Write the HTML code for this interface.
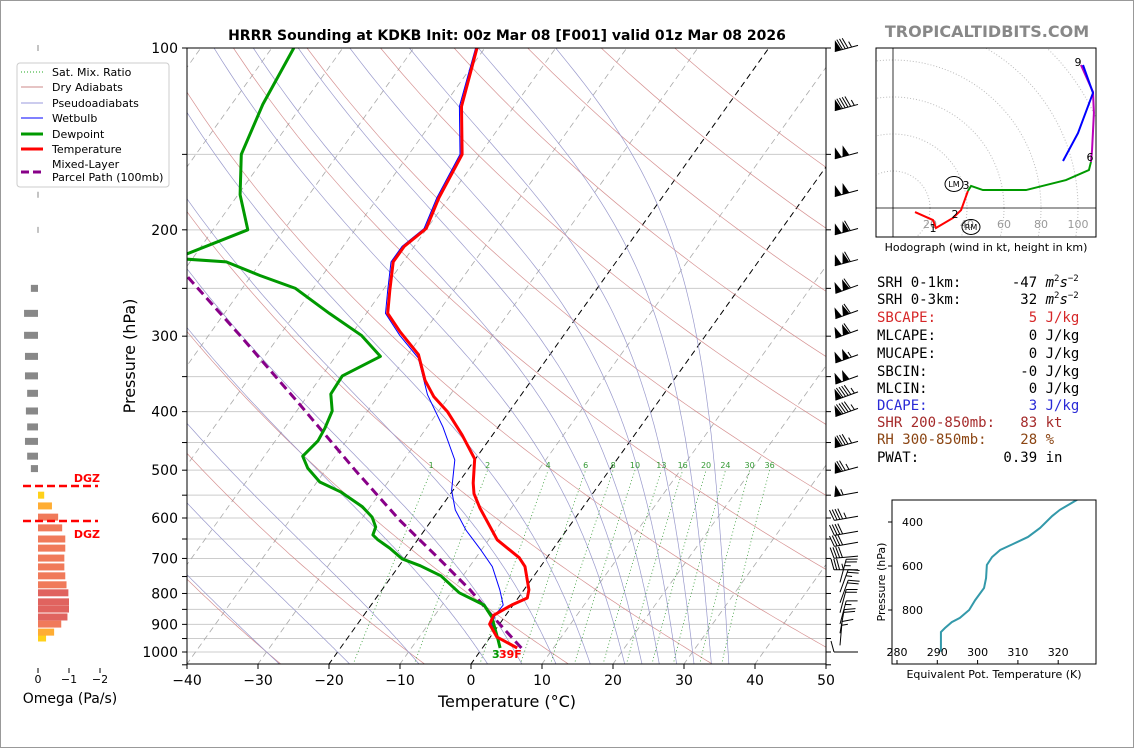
<!DOCTYPE html>
<html><head><meta charset="utf-8"><style>
body{margin:0;background:#fff;}
svg{display:block;font-family:"DejaVu Sans","Liberation Sans",sans-serif;}
.mono{font-family:"DejaVu Sans Mono","Liberation Mono",monospace;font-size:14px;}
</style></head><body>
<svg id="s" width="1134" height="748" viewBox="0 0 1134 748" xmlns="http://www.w3.org/2000/svg">
<rect x="0.5" y="0.5" width="1133" height="747" fill="#fff" stroke="#999"/>
<defs><clipPath id="pc"><rect x="187" y="48" width="639" height="616"/></clipPath>
<clipPath id="hc"><rect x="876" y="48" width="220" height="189"/></clipPath>
<clipPath id="tc"><rect x="892" y="500" width="204" height="164"/></clipPath></defs>
<text x="507" y="40" text-anchor="middle" font-size="14" font-weight="bold">HRRR Sounding at KDKB Init: 00z Mar 08 [F001] valid 01z Mar 08 2026</text>
<text x="987" y="37" text-anchor="middle" font-size="16" font-weight="bold" fill="#888">TROPICALTIDBITS.COM</text>
<g id="bg" clip-path="url(#pc)"></g>
<g id="prof" clip-path="url(#pc)"></g>
<rect x="187" y="48" width="639" height="616" fill="none" stroke="#000"/>
<g id="axes"></g>
<text x="507" y="707" text-anchor="middle" font-size="16">Temperature (°C)</text>
<text transform="translate(135,356) rotate(-90)" text-anchor="middle" font-size="16">Pressure (hPa)</text>
<g id="barbs"></g>
<g id="omega"></g>
<g id="legend">
<rect x="17" y="63" width="152" height="124" rx="3" fill="#fff" stroke="#ccc"/>
<g><line x1="21" y1="72" x2="43" y2="72" stroke="#2a2" stroke-dasharray="1,2"/><text x="52" y="76" font-size="11">Sat. Mix. Ratio</text></g>
<g><line x1="21" y1="87" x2="43" y2="87" stroke="#c88"/><text x="52" y="91" font-size="11">Dry Adiabats</text></g>
<g><line x1="21" y1="103" x2="43" y2="103" stroke="#99d"/><text x="52" y="107" font-size="11">Pseudoadiabats</text></g>
<g><line x1="21" y1="118" x2="43" y2="118" stroke="#00f"/><text x="52" y="122" font-size="11">Wetbulb</text></g>
<g><line x1="21" y1="134" x2="43" y2="134" stroke="#090" stroke-width="3"/><text x="52" y="138" font-size="11">Dewpoint</text></g>
<g><line x1="21" y1="149" x2="43" y2="149" stroke="#f00" stroke-width="3"/><text x="52" y="153" font-size="11">Temperature</text></g>
<g><line x1="21" y1="172" x2="43" y2="172" stroke="#808" stroke-width="3" stroke-dasharray="8,4"/><text x="52" y="168" font-size="11">Mixed-Layer</text><text x="52" y="181" font-size="11">Parcel Path (100mb)</text></g>
</g>
<g id="hodo"></g>
<text x="986" y="251" text-anchor="middle" font-size="11">Hodograph (wind in kt, height in km)</text>
<g class="mono">
<text x="877" y="287" xml:space="preserve">SRH 0-1km:      -47 <tspan font-style="italic">m</tspan><tspan font-size="9" dy="-6">2</tspan><tspan font-style="italic" dy="6">s</tspan><tspan font-size="9" dy="-6">−2</tspan></text>
<text x="877" y="304" xml:space="preserve">SRH 0-3km:       32 <tspan font-style="italic">m</tspan><tspan font-size="9" dy="-6">2</tspan><tspan font-style="italic" dy="6">s</tspan><tspan font-size="9" dy="-6">−2</tspan></text>
<text x="877" y="322" fill="#d62728" xml:space="preserve">SBCAPE:           5 J/kg</text>
<text x="877" y="340" xml:space="preserve">MLCAPE:           0 J/kg</text>
<text x="877" y="358" xml:space="preserve">MUCAPE:           0 J/kg</text>
<text x="877" y="376" xml:space="preserve">SBCIN:           -0 J/kg</text>
<text x="877" y="393" xml:space="preserve">MLCIN:            0 J/kg</text>
<text x="877" y="410" fill="#2a2ad6" xml:space="preserve">DCAPE:            3 J/kg</text>
<text x="877" y="427" fill="#a52a2a" xml:space="preserve">SHR 200-850mb:   83 kt</text>
<text x="877" y="444" fill="#8b4513" xml:space="preserve">RH 300-850mb:    28 %</text>
<text x="877" y="462" xml:space="preserve">PWAT:          0.39 in</text>
</g>
<g id="thetae"></g>
<text transform="translate(885,582) rotate(-90)" text-anchor="middle" font-size="11">Pressure (hPa)</text>
<text x="994" y="678" text-anchor="middle" font-size="11">Equivalent Pot. Temperature (K)</text>
<text x="492" y="658" font-size="11" font-weight="bold" fill="#090">3</text>
<text x="499" y="658" font-size="11" font-weight="bold" fill="#f00">39F</text>
</svg>
<script>
// ---- data ----
const tempP=[985,944,899,869,836,814,789,722,698,652,578,547,525,479,437,400,378,355,322,295,275,252,226,213,199,177,150,125,100];
const tempT=[4.9,0.9,-1.4,-1.7,-0.2,1.3,0.7,-2.2,-3.9,-8.8,-14.4,-16.7,-17.9,-20.1,-24.3,-28.7,-32.1,-35,-38.5,-43.4,-47,-49,-51.4,-51.4,-50.1,-51.4,-52.5,-57.4,-61.1];
const dewP=[985,955,875,836,798,748,720,701,673,652,640,621,598,575,543,523,496,474,447,426,399,374,349,324,299,275,250,238,226,223,200,175,150,124,100];
const dewT=[2.5,1.4,-1.8,-4.1,-8.8,-13.1,-17,-20.3,-23.1,-25.6,-26.8,-27.2,-28.7,-31.1,-35.7,-39.6,-42.7,-44.6,-44,-44.3,-45,-46.9,-47.1,-43.7,-48.5,-55.2,-62.5,-68.8,-74.9,-82.4,-75.1,-79.7,-83.6,-85.6,-86.9];
const wbP=[974,899,869,836,789,722,675,628,582,540,481,424,375,326,299,275,252,226,213,199,177,150,125,100];
const wbT=[2.2,-1.1,-1.5,-1.4,-3.4,-6.8,-10.3,-14.2,-17.7,-20.2,-22.8,-27.8,-33.2,-38.2,-43.1,-47.3,-49.3,-51.7,-51.7,-50.4,-51.7,-52.8,-57.7,-61.3];
const parcelP=[985,875,789,704,605,500,390,299,239];
const parcelT=[5.5,-1.6,-7.6,-14.8,-24.5,-35.8,-50.1,-65.6,-78.9];
const omegaP=[948,927,899,875,849,826,798,774,748,723,699,673,650,623,598,573,550,497,474,448,424,399,373,349,324,299,275,250,200,175,150,124,100];
const omegaV=[-0.26,-0.52,-0.75,-0.95,-1.0,-1.0,-0.98,-0.92,-0.88,-0.85,-0.85,-0.88,-0.88,-0.78,-0.65,-0.45,-0.2,0.23,0.35,0.42,0.35,0.39,0.35,0.42,0.42,0.45,0.45,0.23,0,0,0,0,0];
const barbP=[99,124,149,172,199,224,247,272,293,322,349,371,395,448,494,544,596,631,658,694,731,767,796,829,861,899,931,975,1000];
const barbSpd=[85,95,100,100,110,110,110,110,110,105,100,95,95,85,75,55,45,40,40,40,35,25,25,20,20,15,20,15,10];
const barbDir=[255,255,255,255,255,255,250,250,250,250,250,250,250,255,255,260,260,260,260,265,270,15,20,20,15,15,10,5,270];
const hodoRedU=[11.9,21.6,23.2,32.4,36.8,40.5], hodoRedV=[-2.2,-6.5,-10.8,-5.4,-1.1,9.2];
const hodoGreenU=[40.5,42.2,48.6,71.9,93.5,105.9,107], hodoGreenV=[9.2,11.9,9.7,9.7,15.1,20.5,24.9];
const hodoMagU=[107,107.6,108.6,108.1,101.6], hodoMagV=[24.9,31.4,51.4,62.7,77.3];
const hodoBlueU=[91.9,100,108.1,102.7], hodoBlueV=[25.4,40.5,62.2,77.3];
const thetaeP=[990,973,900,882,855,836,800,755,700,655,595,559,527,500,468,427,373,345,318,286];
const thetaeV=[290.9,290.9,290.9,291.9,293.6,295.6,297.9,299.4,301.6,302.1,302.3,303.6,305.6,308.8,312.5,315.5,318.5,320.4,322.9,325.9];
const mixW=[1,2,4,6,8,10,13,16,20,24,30,36];
const xTicks=[-40,-30,-20,-10,0,10,20,30,40,50];
const yLabels=[100,200,300,400,500,600,700,800,900,1000];

// ---- helpers ----
const NS="http://www.w3.org/2000/svg";
function mk(tag,attrs,parent){const e=document.createElementNS(NS,tag);for(const k in attrs)e.setAttribute(k,attrs[k]);parent.appendChild(e);return e;}
const Y=p=>48+(Math.log10(p)-2)*604;
const X=(T,p)=>187+(T+40)*7.1+(664-Y(p))*0.714;
const pts=(P,T)=>P.map((p,i)=>X(T[i],p).toFixed(1)+","+Y(p).toFixed(1)).join(" ");
const bg=document.getElementById("bg"),prof=document.getElementById("prof"),axes=document.getElementById("axes");

for(let p=100;p<=1050;p+=50){const l=mk("line",{x1:187,x2:826,y1:Y(p),y2:Y(p),stroke:"#ccc","stroke-width":1},bg);

}
for(let T=-130;T<=50;T+=10){const k=(T==0||T==-20);const l=mk("line",{x1:X(T,1050),y1:Y(1050),x2:X(T,100),y2:Y(100),stroke:k?"#000":"#aaa","stroke-width":k?1:0.8,"stroke-dasharray":"6,4"},bg);

}
for(let th=-30;th<=200;th+=20){let a=[];for(let p=1050;p>=100;p-=10){const T=(th+273.15)*Math.pow(p/1000,0.2857)-273.15;a.push(X(T,p).toFixed(1)+","+Y(p).toFixed(1));}
const l=mk("polyline",{points:a.join(" "),fill:"none",stroke:"#c77","stroke-width":0.7,opacity:0.8},bg);

}
function dTdp(T,p){const Tc=T-273.15;const es=6.112*Math.exp(17.67*Tc/(Tc+243.5));const rs=0.622*es/(p-es);
return (287.04*T+2.501e6*rs)/(1005.7+2.501e6*2.501e6*rs*0.622/(287.04*T*T))/p;}
const moistStart=[-30,-20,-10,0,5,10,15,20,22.5,25,27.5,30,32.5,35];
moistStart.forEach(t0=>{let T=t0+273.15,a=[];
let Td=T;for(let p=1000;p<1050;p+=5){Td+=dTdp(Td,p)*5;}a.push(X(Td-273.15,1050)+","+Y(1050));
for(let p=1000;p>=100;p-=5){a.push(X(T-273.15,p).toFixed(1)+","+Y(p).toFixed(1));T-=dTdp(T,p)*5;}
const l=mk("polyline",{points:a.join(" "),fill:"none",stroke:"#99c","stroke-width":0.7},bg);

});
const tdw=(w,p)=>{const e=w*p/(622+w);const L=Math.log(e/6.112);return 243.5*L/(17.67-L);};
mixW.forEach(w=>{let a=[];for(let p=1050;p>=500;p-=10)a.push(X(tdw(w,p),p).toFixed(1)+","+Y(p).toFixed(1));
const l=mk("polyline",{points:a.join(" "),fill:"none",stroke:"#393","stroke-width":0.8,"stroke-dasharray":"1,2.5"},bg);


const t=mk("text",{x:X(tdw(w,500),500),y:468,"text-anchor":"middle","font-size":8,fill:"#393"},bg);t.textContent=w;

});

let e;
e=mk("polyline",{points:pts(wbP,wbT),fill:"none",stroke:"#00f","stroke-width":1},prof);


e=mk("polyline",{points:pts(parcelP,parcelT),fill:"none",stroke:"#808","stroke-width":3,"stroke-dasharray":"9,5"},prof);


e=mk("polyline",{points:pts(dewP,dewT),fill:"none",stroke:"#090","stroke-width":3,"stroke-linejoin":"round"},prof);


e=mk("polyline",{points:pts(tempP,tempT),fill:"none",stroke:"#f00","stroke-width":3,"stroke-linejoin":"round"},prof);



xTicks.forEach(t=>{const x=187+(t+40)*7.1;mk("line",{x1:x,x2:x,y1:664,y2:669,stroke:"#000"},axes);
const tx=mk("text",{x:x,y:685,"text-anchor":"middle","font-size":14},axes);tx.textContent=(t<0?"−":"")+Math.abs(t);

});
for(let p=100;p<=1050;p+=50){mk("line",{x1:182,x2:187,y1:Y(p),y2:Y(p),stroke:"#000"},axes);mk("line",{x1:826,x2:831,y1:Y(p),y2:Y(p),stroke:"#000"},axes);}
yLabels.forEach(p=>{const t=mk("text",{x:178,y:Y(p)+5,"text-anchor":"end","font-size":14},axes);t.textContent=p;

});

const bb=document.getElementById("barbs");
barbP.forEach((p,i)=>{const y=Y(p),d=barbDir[i]*Math.PI/180;let ux=Math.sin(d),uy=-Math.cos(d);
const bx=(barbDir[i]>180)?858:840,L=24;const tx=bx+ux*L,ty=y+uy*L;const px=-uy,py=ux;
const g=mk("g",{},bb);


mk("line",{x1:bx,y1:y,x2:tx,y2:ty,stroke:"#000","stroke-width":1},g);
let s=Math.round(barbSpd[i]/5)*5,pos=0;
while(s>=50){const ax=tx-ux*pos,ay=ty-uy*pos,bx2=tx-ux*(pos+7),by2=ty-uy*(pos+7);
mk("polygon",{points:`${ax},${ay} ${bx2},${by2} ${ax+px*11-ux*3},${ay+py*11-uy*3}`,fill:"#000"},g);pos+=8;s-=50;}
while(s>=10){const ax=tx-ux*pos,ay=ty-uy*pos;mk("line",{x1:ax,y1:ay,x2:ax+px*11+ux*3,y2:ay+py*11+uy*3,stroke:"#000"},g);pos+=2.8;s-=10;}
if(s>=5){const ax=tx-ux*(pos+1),ay=ty-uy*(pos+1);mk("line",{x1:ax,y1:ay,x2:ax+px*6+ux*1.5,y2:ay+py*6+uy*1.5,stroke:"#000"},g);}
});

const om=document.getElementById("omega");
const OX=v=>38-v*31;
omegaP.forEach((p,i)=>{const v=omegaV[i];const y=Y(p);if(Math.abs(v)<0.02){const l=mk("line",{x1:38,x2:38,y1:y-3,y2:y+3,stroke:"#888","stroke-width":1},om);

return;}
let c="#888";if(v<0){const a=-v;c=a<0.3?"#ffd11a":a<0.6?"#ffad33":a<0.95?"#f07a5a":"#e0635f";}
const r=mk("rect",{x:Math.min(38,OX(v)),y:y-3.5,width:Math.abs(v)*31,height:7,fill:c},om);

});
[[486,478],[521,534]].forEach(([y,ty])=>{const l=mk("line",{x1:23,x2:98,y1:y,y2:y,stroke:"#f00","stroke-width":2.5,"stroke-dasharray":"8,4"},om);


const t=mk("text",{x:100,y:ty+4,"text-anchor":"end","font-size":11,"font-weight":"bold",fill:"#f00"},om);t.textContent="DGZ";

});
[[0,"0"],[-1,"−1"],[-2,"−2"]].forEach(([v,s])=>{mk("line",{x1:OX(v),x2:OX(v),y1:668,y2:673,stroke:"#000"},om);
const t=mk("text",{x:OX(v),y:683,"text-anchor":"middle","font-size":11},om);t.textContent=s;

});
e=mk("text",{x:70,y:703,"text-anchor":"middle","font-size":14},om);e.textContent="Omega (Pa/s)";



const ho=document.getElementById("hodo");
const HX=u=>893+u*1.85,HY=v=>208-v*1.85;
const hg=mk("g",{"clip-path":"url(#hc)"},ho);
for(let r=20;r<=140;r+=20)mk("circle",{cx:893,cy:208,r:r*1.85,fill:"none",stroke:"#bbb","stroke-dasharray":"1,2"},hg);
mk("line",{x1:893,x2:893,y1:48,y2:237,stroke:"#000","stroke-width":0.8},hg);
mk("line",{x1:876,x2:1096,y1:208,y2:208,stroke:"#000","stroke-width":0.8},hg);
[20,40,60,80,100].forEach(v=>{const t=mk("text",{x:HX(v),y:228,"text-anchor":"middle","font-size":11,fill:"#999"},hg);t.textContent=v;

});
[[hodoRedU,hodoRedV,"#f00","hodo-0-3km"],[hodoGreenU,hodoGreenV,"#090","hodo-3-6km"],[hodoMagU,hodoMagV,"#b0b","hodo-6-9km-magenta"],[hodoBlueU,hodoBlueV,"#00f","hodo-6-9km-blue"]].forEach(([U,V,c,n])=>{
const l=mk("polyline",{points:U.map((u,i)=>HX(u)+","+HY(V[i])).join(" "),fill:"none",stroke:c,"stroke-width":2},hg);

});
[["1",933,232],["2",955,218],["3",966,189],["6",1090,161],["9",1078,66]].forEach(([s,x,y])=>{const t=mk("text",{x:x,y:y,"text-anchor":"middle","font-size":11},hg);t.textContent=s;

});
[["LM",954,184],["RM",971,227]].forEach(([s,x,y])=>{const g=mk("g",{},hg);


mk("ellipse",{cx:x,cy:y,rx:9,ry:7.5,fill:"none",stroke:"#000"},g);const t=mk("text",{x:x,y:y+3,"text-anchor":"middle","font-size":8},g);t.textContent=s;});
mk("rect",{x:876,y:48,width:220,height:189,fill:"none",stroke:"#000"},ho);

const te=document.getElementById("thetae");
const TX=v=>897+(v-280)*4.03,TY=p=>522+(p-400)*0.22;
const tg=mk("g",{"clip-path":"url(#tc)"},te);
e=mk("polyline",{points:thetaeP.map((p,i)=>TX(thetaeV[i])+","+TY(p)).join(" "),fill:"none",stroke:"#3399aa","stroke-width":2},tg);


mk("rect",{x:892,y:500,width:204,height:164,fill:"none",stroke:"#000"},te);
[280,290,300,310,320].forEach(v=>{mk("line",{x1:TX(v),x2:TX(v),y1:664,y2:660,stroke:"#000"},te);
const t=mk("text",{x:TX(v),y:656,"text-anchor":"middle","font-size":11},te);t.textContent=v;

});
[400,600,800].forEach(p=>{mk("line",{x1:892,x2:888,y1:TY(p),y2:TY(p),stroke:"#000"},te);
const t=mk("text",{x:902,y:TY(p)+4,"font-size":11},te);t.textContent=p;

});
</script>
</body></html>
